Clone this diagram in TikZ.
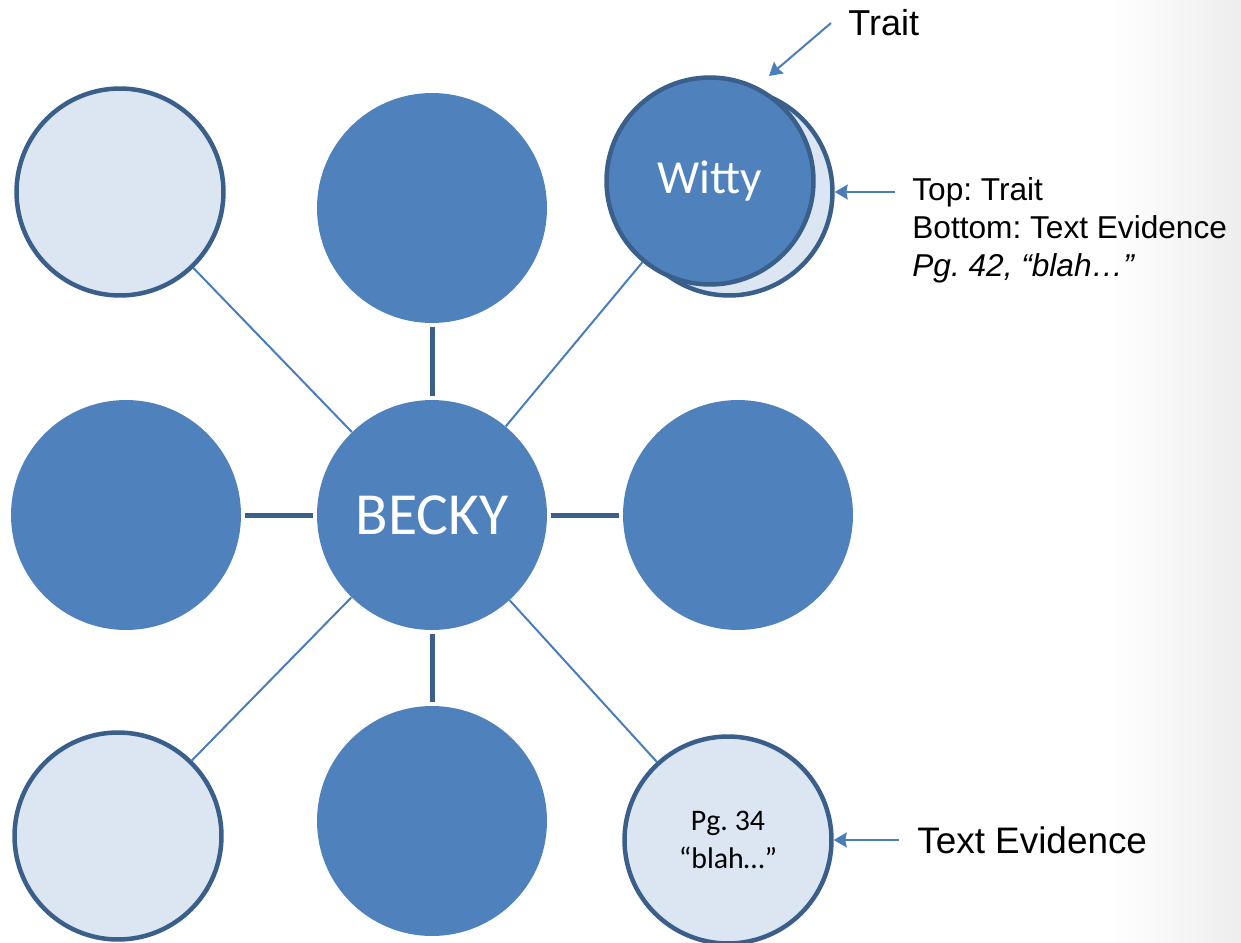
\documentclass[tikz,border=0pt]{standalone}
\usepackage{fontspec}
\setmainfont{Liberation Sans}
\newfontfamily\calibri{Carlito}
\frenchspacing
\usetikzlibrary{arrows.meta}
\definecolor{blobfill}{HTML}{4F81BD}
\definecolor{blobedge}{HTML}{3A5F8B}
\definecolor{palefill}{HTML}{DCE6F2}
\definecolor{linkblue}{HTML}{4A7EBB}
\begin{document}
\begin{tikzpicture}[line join = round,>={Stealth[length=0.26cm,width=0.3cm,inset=0.03cm]},x=0.02cm,y=-0.02cm]
	\tikzset{dark-disc/.style={circle,fill=blobfill,minimum size=4.6cm,inner sep=0pt,text=white,font=\calibri},
		pale-disc/.style={circle,fill=palefill,draw=blobedge,line width=0.09cm,minimum size=4.14cm,inner sep=0pt,font=\calibri},
		thick-link/.style={blobedge,line width=0.1cm,shorten <=0.07cm,shorten >=0.07cm},
		thin-link/.style={linkblue,line width=0.04cm},
		note-arrow/.style={linkblue,line width=0.04cm,->}}
	\useasboundingbox (0,0) rectangle (1241,943);
	\shade[left color=white,right color=black!7] (1110,0) rectangle (1241,943);
	% vong tron
	\node[pale-disc] (top-left) at (120,192) {};
	\node[dark-disc] (top-mid) at (432,208) {};
	\node[pale-disc] (shadow) at (729,192) {};
	\node[pale-disc,fill=blobfill,text=white,font={\calibri\fontsize{27}{32}\selectfont}] (witty) at (710,181) {Witty};
	\node[dark-disc] (mid-left) at (126,515) {};
	\node[dark-disc,font={\calibri\fontsize{34}{40}\selectfont}] (becky) at (432,515) {BECKY};
	\node[dark-disc] (mid-right) at (738,515) {};
	\node[pale-disc] (bot-left) at (118,836) {};
	\node[dark-disc] (bot-mid) at (432,821) {};
	\node[pale-disc,align=center,font={\calibri\fontsize{17}{21.6}\selectfont}] (bot-right) at (728,840) {Pg. 34\\“blah…”};
	% duong noi
	\draw[thick-link] (top-mid) -- (becky);
	\draw[thick-link] (becky) -- (bot-mid);
	\draw[thick-link] (mid-left) -- (becky);
	\draw[thick-link] (becky) -- (mid-right);
	\foreach \g in {top-left,witty,bot-left,bot-right}
		\draw[thin-link] (\g) -- (becky);
	% chu thich
	\node[anchor=base west,inner sep=0pt,font={\fontsize{20.5}{24}\selectfont}] (trait-lbl) at (848,35) {Trait};
	\node[anchor=base west,inner sep=0pt,align=left,font={\fontsize{18}{21.6}\selectfont}] (layer-lbl) at (912,276)
		{Top: Trait\\Bottom: Text Evidence\\\textit{Pg. 42, “blah…”}};
	\node[anchor=base west,inner sep=0pt,font={\fontsize{21}{25}\selectfont}] (evid-lbl) at (917,853) {Text Evidence};
	\coordinate (trait-tail) at (831,23);
	\coordinate (trait-tip) at (769,76);
	\coordinate (layer-tail) at (895,192);
	\coordinate (evid-tail) at (899,840);
	\draw[note-arrow] (trait-tail) -- (trait-tip);
	\draw[note-arrow] (layer-tail) -- (shadow);
	\draw[note-arrow] (evid-tail) -- (bot-right);
\end{tikzpicture}
\end{document}
